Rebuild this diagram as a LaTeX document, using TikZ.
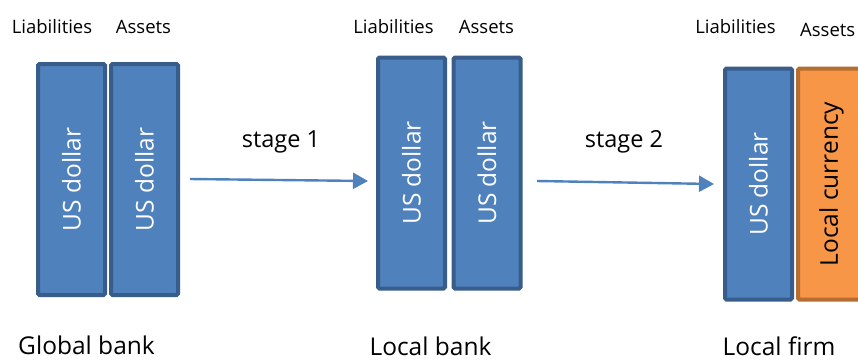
\documentclass[tikz,border=0pt]{standalone}
\usepackage{fontspec}
\setmainfont{Open Sans}
\usetikzlibrary{arrows.meta}
\definecolor{usfill}{HTML}{4F81BD}
\definecolor{usline}{HTML}{385D8A}
\definecolor{lcfill}{HTML}{F79646}
\definecolor{lcline}{HTML}{B66D31}
\begin{document}
\begin{tikzpicture}[x=1pt,y=-1pt,
  sheet/.style={draw=usline, fill=usfill, line width=4pt, rounded corners=1.5pt,
    rotate=90, minimum width=231pt, minimum height=67pt, inner sep=0pt,
    text=white, font=\fontsize{24.5}{25}\selectfont},
  localsheet/.style={sheet, draw=lcline, fill=lcfill, text=black},
  head/.style={font=\fontsize{18.5}{19}\selectfont, inner sep=0pt, anchor=base},
  stagelbl/.style={font=\fontsize{23.5}{24}\selectfont, inner sep=0pt, anchor=base},
  owner/.style={font=\fontsize{24.5}{25}\selectfont, inner sep=0pt, anchor=base},
  flow/.style={draw=usfill, line width=2.4pt, -{Triangle[length=15pt,width=16pt]}}]
\useasboundingbox (0,0) rectangle (858,360);

% Global bank balance sheet
\node[sheet] (gl) at (71.5,179.5) {US dollar};
\node[sheet] (ga) at (144.5,179.5) {US dollar};
\node[head] (glh) at (52,33) {Liabilities};
\node[head] (gah) at (143.5,33) {Assets};
\node[owner] (gname) at (86.5,354) {Global bank};

% Local bank balance sheet
\node[sheet] (bl) at (411.5,173) {US dollar};
\node[sheet] (ba) at (487,173) {US dollar};
\node[head] (blh) at (393.5,33) {Liabilities};
\node[head] (bah) at (486.5,33) {Assets};
\node[owner] (bname) at (430.5,355) {Local bank};

% Local firm balance sheet
\node[sheet] (fl) at (758.5,184) {US dollar};
\node[localsheet] (fa) at (831.5,184) {Local currency};
\node[head] (flh) at (735.5,33) {Liabilities};
\node[head, anchor=base west] (fah) at (800,36) {Assets};
\node[owner] (fname) at (779,355) {Local firm};

% Funding flows
\coordinate (s1a) at (190,179);
\coordinate (s1b) at (368,181);
\coordinate (s2a) at (537,181);
\coordinate (s2b) at (714,184);
\draw[flow] (s1a) -- (s1b);
\draw[flow] (s2a) -- (s2b);
\node[stagelbl] (st1) at (281,147) {stage 1};
\node[stagelbl] (st2) at (624,147) {stage 2};
\end{tikzpicture}
\end{document}
